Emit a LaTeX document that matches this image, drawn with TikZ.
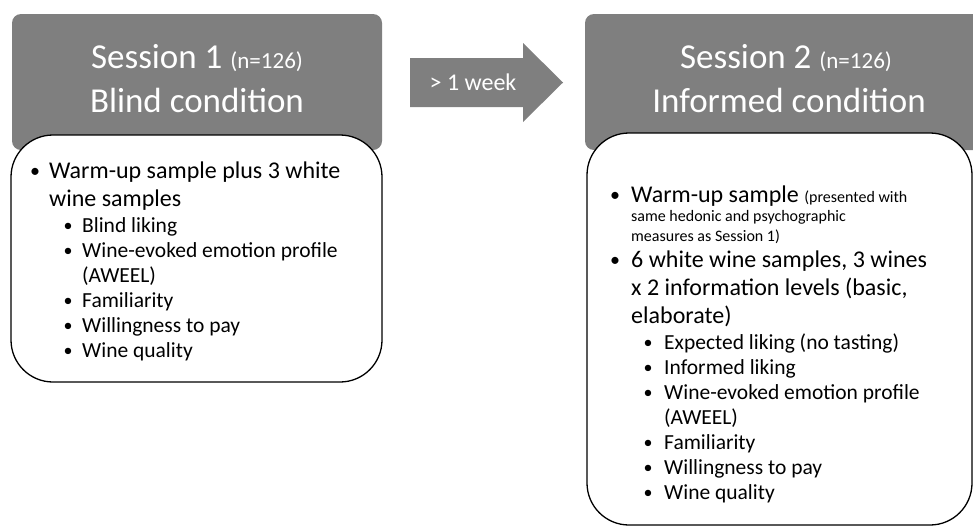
\documentclass[tikz,border=0pt]{standalone}
\usepackage{fontspec}
\setmainfont{Carlito}
\usepackage{xcolor}
\usepackage{tikz}
\usetikzlibrary{positioning}
\definecolor{hdrgray}{HTML}{7F7F7F}

\begin{document}
\begin{tikzpicture}[
    x=1pt, y=-1pt,
    hdr/.style={rectangle, fill=hdrgray, rounded corners=9pt, inner sep=0pt,
                minimum height=136pt, minimum width=#1},
    card/.style={rectangle, draw=black, fill=white, line width=1.3pt,
                 rounded corners=42pt, inner sep=0pt, minimum width=#1},
    ttl/.style={text=white, anchor=base, inner sep=0pt, font=\fontsize{35}{42}\selectfont},
    lvone/.style={anchor=base west, align=left, inner sep=0pt, font=\fontsize{24}{28}\selectfont},
    lvtwo/.style={anchor=base west, align=left, inner sep=0pt, font=\fontsize{21.5}{25}\selectfont},
    note/.style={anchor=base west, align=left, inner sep=0pt, font=\fontsize{16}{19.5}\selectfont},
    bul/.style={anchor=base, inner sep=0pt, font=\fontsize{#1}{#1}\selectfont},
    bul/.default=20
]
\useasboundingbox (0,0) rectangle (973,528);

% Session 1 (multi-line texts sit on the baseline of their last line)
\node[hdr=370pt] at (197,82) (s1hdr) {};
\node[ttl] at (197,68) (s1top) {Session 1 {\fontsize{23}{28}\selectfont (n=126)}};
\node[ttl] at (197,112) (s1cond) {Blind condition};
\node[card=371pt, minimum height=247pt] at (196.5,258.5) (s1card) {};

\node[bul] at (35,177) (b1) {•};
\node[lvone] at (49,206) (s1a) {Warm-up sample plus 3 white\\wine samples};
\node[bul=18] at (68,231) (b2) {•};
\node[lvtwo] at (82,232) (s1b) {Blind liking};
\node[bul=18] at (68,256) (b3) {•};
\node[lvtwo] at (82,282) (s1c) {Wine-evoked emotion profile\\(AWEEL)};
\node[bul=18] at (68,306) (b4) {•};
\node[lvtwo] at (82,307) (s1d) {Familiarity};
\node[bul=18] at (68,331) (b5) {•};
\node[lvtwo] at (82,332) (s1e) {Willingness to pay};
\node[bul=18] at (68,356) (b6) {•};
\node[lvtwo] at (82,357) (s1f) {Wine quality};

% Time gap
\fill[hdrgray] (410,58) -- (523,58) -- (523,43) -- (563,82.5) -- (523,122)
    -- (523,107) -- (410,107) -- cycle;
\node[text=white, font=\fontsize{24}{28}\selectfont] at (473,82) (gap) {> 1 week};

% Session 2
\node[hdr=400pt] at (785,82) (s2hdr) {};
\node[ttl] at (786,68) (s2top) {Session 2 {\fontsize{23}{28}\selectfont (n=126)}};
\node[ttl] at (789,112) (s2cond) {Informed condition};
\node[card=385pt, minimum height=392pt] at (779.5,329) (s2card) {};

\node[bul] at (615,201) (c1) {•};
\node[lvone] at (631,202) (s2a) {Warm-up sample {\fontsize{16}{19.5}\selectfont (presented with}};
\node[note] at (631,241) (s2a2) {same hedonic and psychographic\\measures as Session 1)};
\node[bul] at (615,266) (c2) {•};
\node[lvone] at (631,323) (s2b) {6 white wine samples, 3 wines\\x 2 information levels (basic,\\elaborate)};
\node[bul=18] at (648,348) (c3) {•};
\node[lvtwo] at (664,349) (s2c) {Expected liking (no tasting)};
\node[bul=18] at (648,373) (c4) {•};
\node[lvtwo] at (664,374) (s2d) {Informed liking};
\node[bul=18] at (648,398) (c5) {•};
\node[lvtwo] at (664,424) (s2e) {Wine-evoked emotion profile\\(AWEEL)};
\node[bul=18] at (648,448) (c6) {•};
\node[lvtwo] at (664,449) (s2f) {Familiarity};
\node[bul=18] at (648,473) (c7) {•};
\node[lvtwo] at (664,474) (s2g) {Willingness to pay};
\node[bul=18] at (648,498) (c8) {•};
\node[lvtwo] at (664,499) (s2h) {Wine quality};

\end{tikzpicture}
\end{document}
